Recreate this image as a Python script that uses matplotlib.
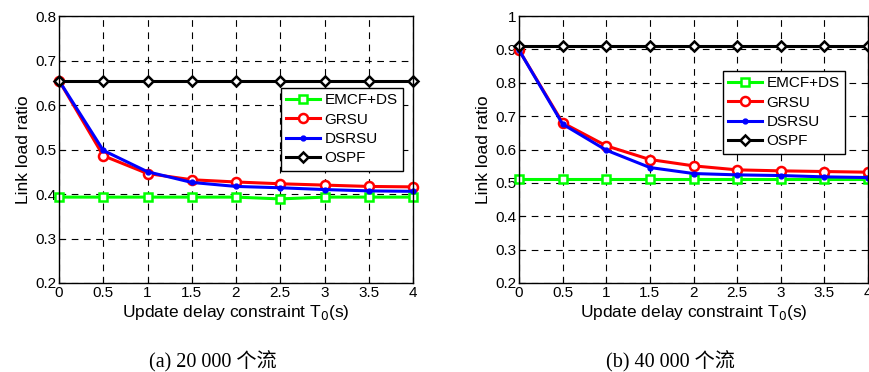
import matplotlib.pyplot as plt

plt.rcParams['font.family'] = ['Liberation Sans', 'DejaVu Sans']

t = [0, 0.5, 1, 1.5, 2, 2.5, 3, 3.5, 4]
labels = ['EMCF+DS', 'GRSU', 'DSRSU', 'OSPF']

# (a) 20 000 flows
emcf_a = [0.393, 0.393, 0.393, 0.393, 0.393, 0.389, 0.393, 0.393, 0.393]
grsu_a = [0.655, 0.486, 0.446, 0.432, 0.427, 0.423, 0.420, 0.417, 0.416]
dsrsu_a = [0.655, 0.498, 0.450, 0.426, 0.417, 0.414, 0.410, 0.407, 0.406]
ospf_a = [0.655] * 9

# (b) 40 000 flows
emcf_b = [0.512, 0.512, 0.512, 0.512, 0.512, 0.512, 0.512, 0.512, 0.512]
grsu_b = [0.898, 0.680, 0.611, 0.570, 0.551, 0.539, 0.536, 0.534, 0.532]
dsrsu_b = [0.898, 0.676, 0.598, 0.546, 0.528, 0.524, 0.522, 0.518, 0.516]
ospf_b = [0.910] * 9

styles = [
    dict(color='#00ff00', marker='s', markersize=6, markerfacecolor='white', markeredgewidth=1.8),
    dict(color='#ff0000', marker='o', markersize=6.5, markerfacecolor='white', markeredgewidth=1.8),
    dict(color='#0000ff', marker='.', markersize=7),
    dict(color='black', marker='D', markersize=5.5, markerfacecolor='white', markeredgewidth=1.8),
]

W, H = 869, 372
fig = plt.figure(figsize=(W / 100, H / 100), dpi=100)


def make_axes(x0, x1, y0, y1):
    return fig.add_axes([x0 / W, 1 - y1 / H, (x1 - x0) / W, (y1 - y0) / H])


panels = [
    (make_axes(59, 413, 16, 283), [emcf_a, grsu_a, dsrsu_a, ospf_a], (0.2, 0.8),
     [0.2, 0.3, 0.4, 0.5, 0.6, 0.7, 0.8], ['0.2', '0.3', '0.4', '0.5', '0.6', '0.7', '0.8'],
     (281 / W, 1 - 88 / H), '(a) 20 000 个流', 213),
    (make_axes(519, 868, 16, 283), [emcf_b, grsu_b, dsrsu_b, ospf_b], (0.2, 1.0),
     [0.2, 0.3, 0.4, 0.5, 0.6, 0.7, 0.8, 0.9, 1.0],
     ['0.2', '0.3', '0.4', '0.5', '0.6', '0.7', '0.8', '0.9', '1'],
     (723 / W, 1 - 71 / H), '(b) 40 000 个流', 670),
]

for ax, series, ylim, yt, ytl, leg_pos, caption, cx in panels:
    for ys, lab, st in zip(series, labels, styles):
        ax.plot(t, ys, label=lab, linewidth=2.2, clip_on=False, **st)
    ax.set_xlim(0, 4)
    ax.set_ylim(*ylim)
    ax.set_xticks(t)
    ax.set_xticklabels(['0', '0.5', '1', '1.5', '2', '2.5', '3', '3.5', '4'])
    ax.set_yticks(yt)
    ax.set_yticklabels(ytl)
    ax.tick_params(direction='in', labelsize=11, length=4, pad=2)
    ax.grid(True, color='black', linestyle=(0, (6, 5)), linewidth=0.8)
    ax.set_xlabel('Update delay constraint T$_0$(s)', fontsize=12.5, labelpad=2)
    ax.set_ylabel('Link load ratio', fontsize=12.5, labelpad=3)
    for sp in ax.spines.values():
        sp.set_linewidth(1.0)
    leg = ax.legend(loc='upper left', bbox_to_anchor=leg_pos, bbox_transform=fig.transFigure,
                    fontsize=11, fancybox=False, edgecolor='black', framealpha=1,
                    handlelength=2.2, borderpad=0.35, labelspacing=0.35, handletextpad=0.3,
                    borderaxespad=0)
    leg.get_frame().set_linewidth(1.0)
    fig.text(cx / W, 1 - 362 / H, caption, ha='center', va='center', fontsize=14.5,
             family=['Liberation Serif', 'Noto Sans CJK SC'])

fig.savefig('out.png', dpi=100)
